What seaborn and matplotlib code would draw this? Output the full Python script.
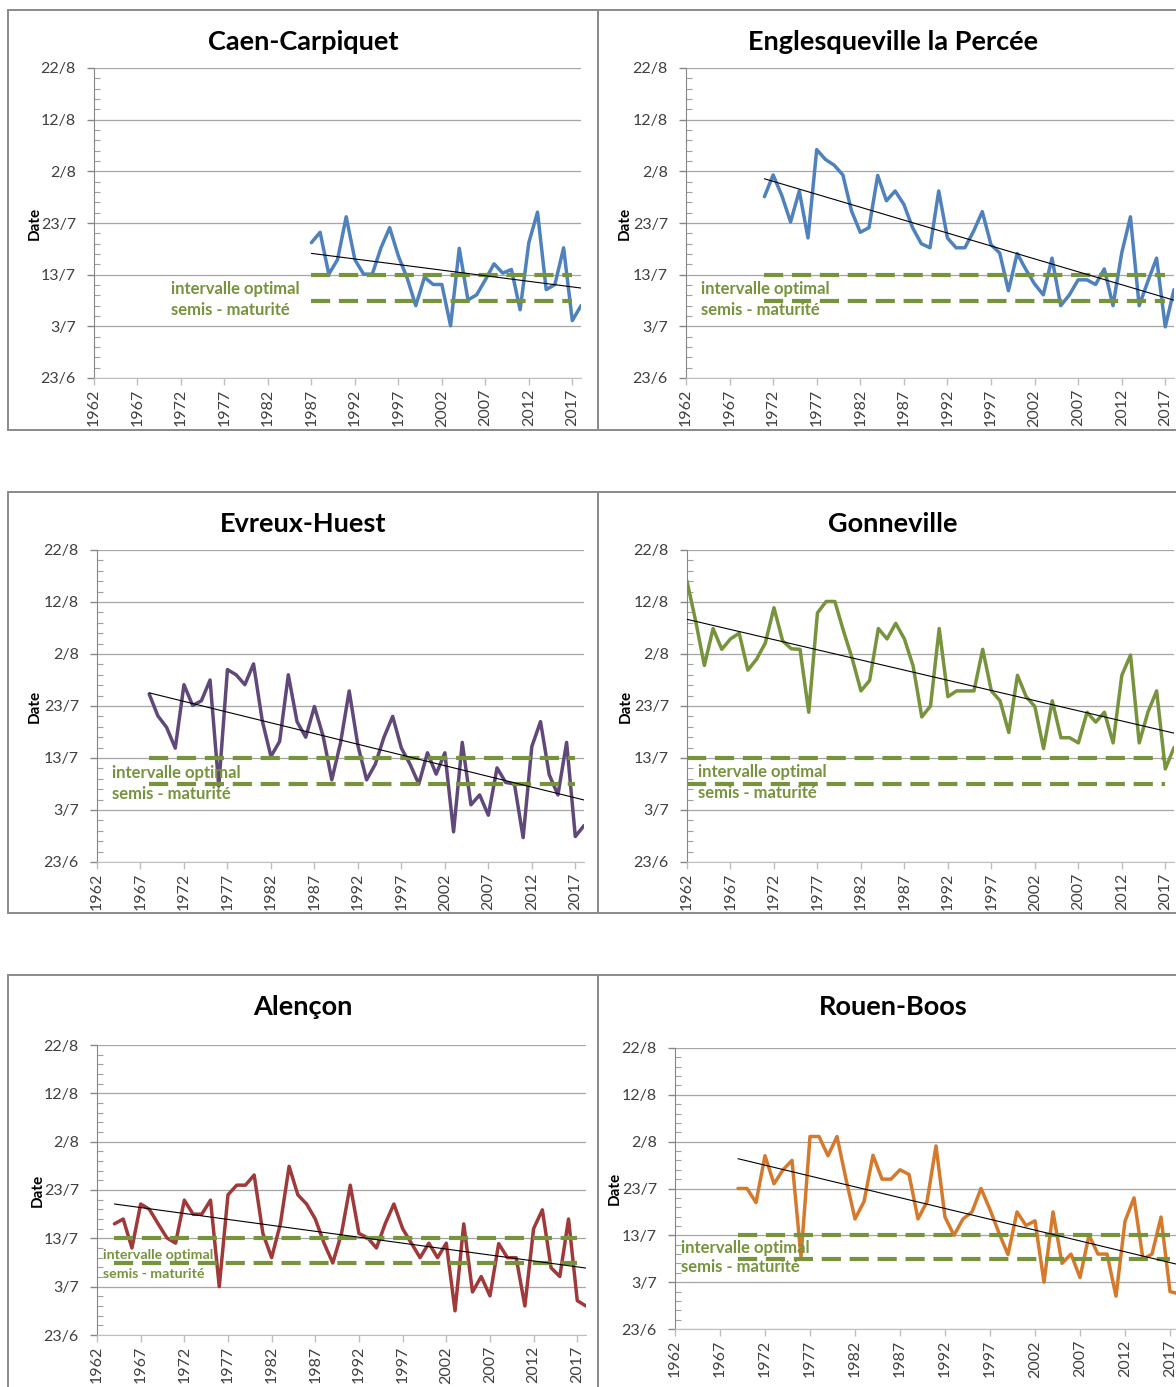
import numpy as np
import matplotlib
matplotlib.use("Agg")
import matplotlib.pyplot as plt
import seaborn as sns
from matplotlib.patches import Rectangle
from matplotlib.ticker import MultipleLocator

# Style first, fonts after (set_style resets font.family)
sns.set_style("white")
plt.rcParams['font.family'] = ['Lato', 'DejaVu Sans']

# --- data: days after 23/6 for each year -------------------------------
date_ticks = [0, 10, 20, 30, 40, 50, 60]
date_labels = ["23/6", "3/7", "13/7", "23/7", "2/8", "12/8", "22/8"]
year_ticks = list(range(1962, 2018, 5))

optimal_upper = 20   # 13/7
optimal_lower = 15   # 8/7
optimal_end = 2017

caen_start = 1987
caen_days = [26.2, 28.2, 20.1, 22.9, 31.2, 22.9, 20.1, 20.1, 25.2, 29.1,
             23.6, 19.4, 14.0, 19.5, 18.1, 18.1, 10.1, 25.1, 15.1, 16.1,
             19.0, 22.1, 20.3, 21.0, 13.2, 26.2, 32.1, 17.1, 18.1, 25.2,
             11.1, 14.0]

englesqueville_start = 1971
englesqueville_days = [35.1, 39.3, 35.3, 30.2, 36.2, 27.1, 44.2, 42.3, 41.2, 39.3,
                       32.3, 28.2, 29.1, 39.2, 34.3, 36.2, 33.6, 29.1, 26.0, 25.2,
                       36.2, 27.1, 25.2, 25.2, 28.4, 32.2, 25.8, 24.2, 16.9, 24.1,
                       21.0, 18.2, 16.1, 23.2, 14.0, 16.1, 19.0, 19.0, 18.1, 21.1,
                       14.0, 24.2, 31.2, 14.0, 18.7, 23.2, 9.9, 17.1]

evreux_start = 1968
evreux_days = [32.3, 28.1, 25.9, 21.9, 34.1, 30.1, 31.0, 35.0, 14.6, 37.0,
               36.0, 34.1, 38.1, 27.2, 20.3, 23.2, 36.0, 27.0, 24.0, 29.9,
               24.2, 15.8, 22.9, 32.9, 22.4, 15.8, 18.8, 24.0, 28.0, 21.9,
               18.8, 15.0, 21.0, 16.9, 21.0, 5.8, 23.0, 11.0, 12.9, 9.0,
               18.1, 15.3, 15.0, 4.7, 22.2, 27.0, 16.8, 12.9, 23.0, 4.9,
               7.0]

gonneville_start = 1962
gonneville_days = [54.0, 46.3, 37.8, 44.9, 40.9, 42.9, 44.0, 36.9, 39.0, 42.1,
                   48.9, 42.5, 41.0, 40.9, 28.8, 47.9, 50.1, 50.1, 44.4, 39.1,
                   32.9, 34.9, 44.9, 42.9, 45.9, 42.9, 37.7, 27.9, 30.0, 44.9,
                   31.8, 32.9, 32.9, 32.9, 40.9, 32.9, 31.0, 24.9, 35.9, 31.8,
                   29.9, 21.8, 31.0, 23.9, 23.9, 22.9, 28.8, 26.9, 28.8, 22.9,
                   35.9, 39.8, 22.9, 28.8, 32.9, 17.9, 22.0]

alencon_start = 1964
alencon_days = [23.0, 24.0, 18.0, 27.1, 26.0, 23.0, 20.1, 19.0, 27.9, 25.0,
                25.0, 27.9, 10.0, 29.0, 31.0, 31.0, 33.1, 21.0, 16.0, 23.0,
                34.9, 29.0, 27.1, 24.0, 19.0, 14.9, 21.0, 31.0, 21.0, 20.1,
                18.0, 23.0, 27.1, 22.0, 19.0, 16.0, 19.0, 16.0, 19.0, 5.0,
                23.0, 8.9, 12.1, 8.1, 18.9, 16.0, 16.0, 6.0, 22.0, 25.9,
                13.9, 12.1, 24.0, 7.1, 6.0]

rouen_start = 1969
rouen_days = [30.0, 30.0, 27.0, 37.0, 31.0, 34.0, 36.0, 15.4, 41.1, 41.1,
              37.0, 41.1, 32.0, 23.5, 27.2, 37.1, 32.0, 32.0, 34.0, 33.0,
              23.5, 27.2, 39.1, 23.9, 20.0, 23.5, 25.0, 30.0, 25.5, 20.5,
              15.9, 25.0, 22.1, 23.1, 10.0, 25.0, 14.0, 16.0, 11.0, 20.0,
              16.0, 16.0, 7.0, 23.0, 28.0, 14.9, 16.0, 23.9, 8.0, 7.5]

GREEN = "#77933C"
W, H = 1176, 1387


def fig_rect(x0, x1, y0, y1):
    # pixel box -> figure fraction
    return [x0 / W, 1 - y1 / H, (x1 - x0) / W, (y1 - y0) / H]


def draw_station(fig, box, axpx, title, start, days, color, text_xy, text_size, date_x):
    bx0, by0, bx1, by1 = box
    fig.add_artist(Rectangle((bx0 / W, 1 - by1 / H), (bx1 - bx0) / W, (by1 - by0) / H,
                             transform=fig.transFigure, fill=False,
                             edgecolor="#8a8a8a", lw=1.4))

    ax = fig.add_axes(fig_rect(*axpx))
    years = np.arange(start, start + len(days))

    sns.lineplot(x=years, y=days, ax=ax, color=color, lw=2.5, zorder=3)
    sns.regplot(x=years, y=np.array(days), ax=ax, scatter=False, ci=None,
                color="black", line_kws=dict(lw=0.8, zorder=5))
    for lvl in (optimal_upper, optimal_lower):
        ax.hlines(lvl, start, optimal_end, color=GREEN, lw=3.0,
                  linestyles=(0, (4.6, 2.1)), zorder=4)

    ax.set_xlim(1962, 2018)
    ax.set_ylim(0, 60)
    ax.set_xticks(year_ticks)
    ax.set_xticklabels([str(y) for y in year_ticks])
    ax.set_yticks(date_ticks)
    ax.set_yticklabels(date_labels)
    ax.yaxis.set_minor_locator(MultipleLocator(2))
    ax.tick_params(axis="y", which="major", direction="out", length=5, width=1,
                   color="#868686", labelsize=11.5, labelcolor="#404040", pad=8, left=True)
    ax.tick_params(axis="y", which="minor", direction="in", length=4, width=0.8,
                   color="#a0a0a0", left=True)
    ax.tick_params(axis="x", which="major", direction="out", length=5, width=1,
                   color="#bfbfbf", labelsize=11.5, labelcolor="#404040",
                   labelrotation=90, pad=3, bottom=True)
    ax.grid(axis="y", color="#a6a6a6", lw=0.9)
    ax.set_axisbelow(True)
    for s in ("top", "right"):
        ax.spines[s].set_visible(False)
    ax.spines["left"].set_color("#868686")
    ax.spines["bottom"].set_color("#bfbfbf")
    ax.set_xlabel("")
    ax.set_ylabel("")

    tx, ty = text_xy
    ax.text(tx, ty, "intervalle optimal", color=GREEN, fontsize=text_size,
            fontweight="bold", ha="left", va="center", zorder=6)
    ax.text(tx, ty - 4, "semis - maturité", color=GREEN, fontsize=text_size,
            fontweight="bold", ha="left", va="center", zorder=6)

    fig.text((bx0 + bx1) / 2 / W, 1 - (by0 + 32) / H, title, ha="center", va="center",
             fontsize=19.5, fontweight="bold", color="black")
    fig.text(date_x / W, 1 - ((axpx[2] + axpx[3]) / 2) / H, "Date", rotation=90,
             ha="center", va="center", fontsize=11, fontweight="bold", color="black")
    return ax


fig = plt.figure(figsize=(W / 100, H / 100), dpi=100)
fig.patch.set_facecolor("white")

draw_station(fig, (8, 10, 598, 430), (94, 581, 68, 378), "Caen-Carpiquet",
             caen_start, caen_days, "#4F81BD", (1970.9, 17.2), 12, 35)
draw_station(fig, (598, 10, 1188, 430), (686, 1174, 68, 378), "Englesqueville la Percée",
             englesqueville_start, englesqueville_days, "#4F81BD", (1963.7, 17.2), 12, 625)
draw_station(fig, (8, 492, 598, 913), (97, 584, 550, 862), "Evreux-Huest",
             evreux_start, evreux_days, "#60497A", (1963.7, 17.1), 12, 35)
draw_station(fig, (598, 492, 1188, 913), (687, 1174, 550, 862), "Gonneville",
             gonneville_start, gonneville_days, "#77933C", (1963.3, 17.3), 12, 626)
draw_station(fig, (8, 975, 598, 1400), (97, 586, 1045, 1335), "Alençon",
             alencon_start, alencon_days, "#A0393A", (1962.7, 16.6), 10.2, 38)
draw_station(fig, (598, 975, 1188, 1400), (675, 1179, 1048, 1329), "Rouen-Boos",
             rouen_start, rouen_days, "#D57A2D", (1962.7, 17.3), 12, 615)

fig.savefig("out.png", dpi=100, facecolor="white")
